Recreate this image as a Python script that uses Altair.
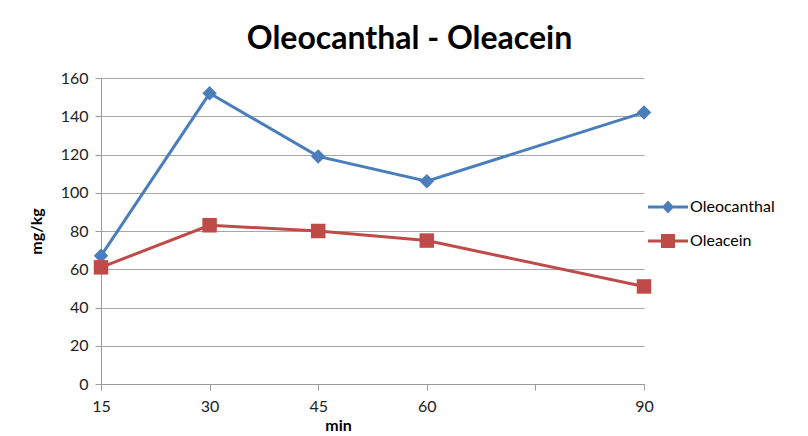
import altair as alt
import pandas as pd

minutes = [15, 30, 45, 60, 90]
oleocanthal = [67, 152, 119, 106, 142]
oleacein = [61, 83, 80, 75, 51]
series_names = ["Oleocanthal", "Oleacein"]
x_ticks = [15, 30, 45, 60, 75, 90]
y_ticks = [0, 20, 40, 60, 80, 100, 120, 140, 160]

rows = []
for name, vals in zip(series_names, [oleocanthal, oleacein]):
    for m, v in zip(minutes, vals):
        rows.append({"min": m, "value": v, "series": name})
df = pd.DataFrame(rows)

FONT = "Lato"
colors = ["#4A7EBB", "#BE4B48"]


def cscale():
    return alt.Scale(domain=series_names, range=colors)


x_enc = alt.X(
    "min:Q",
    scale=alt.Scale(domain=[15, 90], nice=False, zero=False),
    axis=alt.Axis(
        values=x_ticks,
        labelExpr="datum.value == 75 ? '' : datum.label",
        labelFlush=False,
        grid=False,
        title="min",
        titleX=237,
        titlePadding=3,
        labelPadding=8,
        tickSize=6,
    ),
)
y_enc = alt.Y(
    "value:Q",
    scale=alt.Scale(domain=[0, 160], nice=False),
    axis=alt.Axis(values=y_ticks, grid=True, title="mg/kg", tickSize=6,
                  labelPadding=7, titlePadding=16, labelFlush=False),
)

lines = alt.Chart(df).mark_line(strokeWidth=3).encode(
    x=x_enc, y=y_enc,
    color=alt.Color("series:N", scale=cscale(), legend=None),
)

points = alt.Chart(df).mark_point(filled=True, size=210, opacity=1).encode(
    x=x_enc, y=y_enc,
    color=alt.Color("series:N", scale=cscale(), legend=None),
    shape=alt.Shape("series:N", scale=alt.Scale(domain=series_names, range=["diamond", "square"]), legend=None),
)

leg_diamond = "M-1,-0.075 L1,-0.075 L1,0.075 L-1,0.075 Z M0,-0.32 L0.3,0 L0,0.32 L-0.3,0 Z"
leg_square = "M-1,-0.075 L1,-0.075 L1,0.075 L-1,0.075 Z M-0.35,-0.35 L0.35,-0.35 L0.35,0.35 L-0.35,0.35 Z"

legend = alt.Legend(
    orient="none", legendX=547, legendY=109, title=None, padding=0,
    symbolSize=1600, symbolStrokeWidth=0, symbolOpacity=1,
    labelFontSize=16, labelFont=FONT, labelColor="#000000", labelOffset=2,
    rowPadding=6,
)

legend_layer = alt.Chart(df).mark_point(filled=True, opacity=0).encode(
    x=x_enc, y=y_enc,
    color=alt.Color("series:N", scale=cscale(), legend=legend, sort=series_names),
    shape=alt.Shape("series:N", scale=alt.Scale(domain=series_names, range=[leg_diamond, leg_square]),
                    legend=legend, sort=series_names),
)

chart = (
    alt.layer(lines, points, legend_layer)
    .resolve_scale(shape="independent", color="independent")
    .properties(
        width=543, height=306,
        background="white",
        autosize=alt.AutoSizeParams(type="none"),
        padding={"left": 93, "top": 70, "right": 156, "bottom": 52},
        title=alt.TitleParams(
            "Oleocanthal - Oleacein", font=FONT, fontSize=32, fontWeight="bold",
            anchor="middle", dx=37, offset=14, color="#000000",
        ),
    )
    .configure_view(stroke=None)
    .configure_axis(
        labelFont=FONT, labelFontSize=16, labelColor="#222222",
        titleFont=FONT, titleFontSize=16, titleFontWeight="bold", titleColor="#000000",
        domainColor="#9a9a9a", tickColor="#9a9a9a", gridColor="#a6a6a6",
        domainWidth=1, tickWidth=1, gridWidth=1,
    )
)

chart.save("out.html", embed_options={"renderer": "svg", "actions": False})
